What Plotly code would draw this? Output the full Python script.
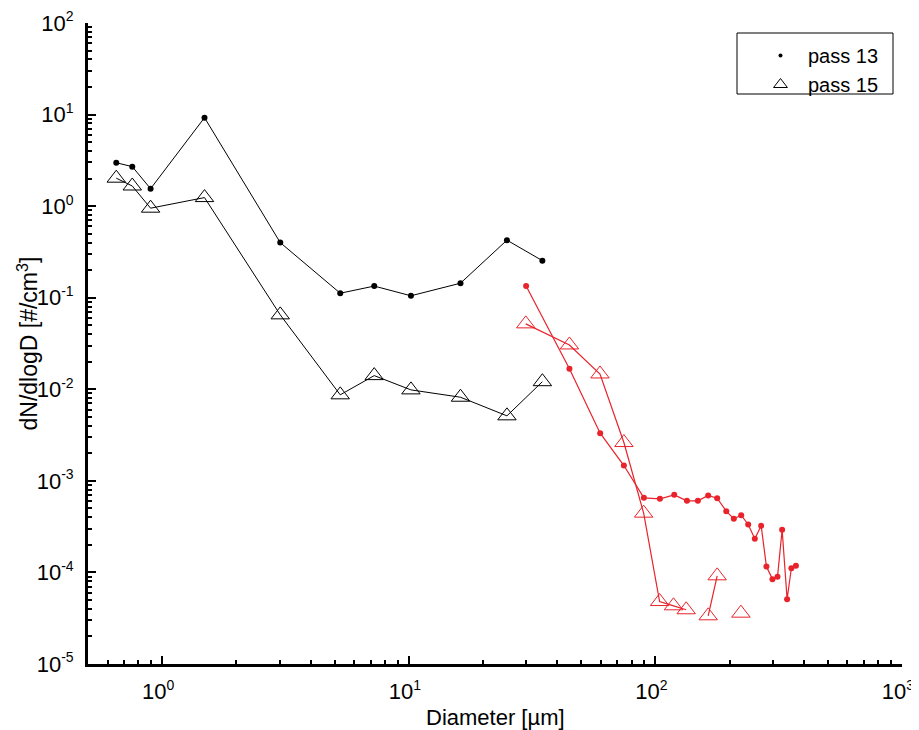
import plotly.graph_objects as go
import numpy as np

# ---- data ----
# pass 13, small-size instrument (black dots)
p13_small_d = [0.651, 0.756, 0.897, 1.484, 3.01, 5.27, 7.24, 10.2, 16.2, 25.0, 34.8]
p13_small_n = [2.98, 2.70, 1.55, 9.25, 0.40, 0.112, 0.134, 0.105, 0.144, 0.425, 0.254]

# pass 15, small-size instrument (black triangles)
p15_small_d = [0.651, 0.756, 0.897, 1.484, 3.01, 5.27, 7.24, 10.2, 16.2, 25.0, 34.8]
p15_small_n = [2.02, 1.66, 0.95, 1.24, 0.065, 0.0087, 0.0141, 0.00985, 0.00819, 0.00513, 0.0121]

# pass 13, large-size instrument (red dots)
p13_large_d = [29.9, 44.8, 59.7, 74.5, 89.8, 104.3, 119.2, 134.2, 148.7, 163.7, 178, 193.8,
               208, 222.8, 237.8, 253, 268.5, 282, 298.3, 312.7, 326.5, 342, 356, 371.4]
p13_large_n = [0.134, 0.0168, 0.00332, 0.00147, 0.000652, 0.000636, 0.000703, 0.000605,
               0.000605, 0.000692, 0.000647, 0.000467, 0.000385, 0.000422, 0.000334,
               0.000233, 0.000323, 0.000116, 8.45e-5, 8.95e-5, 0.000292, 5.11e-5,
               0.000111, 0.000118]

# pass 15, large-size instrument (red triangles); None = missing value
p15_large_d = [29.8, 44.8, 59.6, 74.5, 89.6, 104, 118.4, 133.3, 148.7, 163.7, 178, 193.8, 208, 222.2]
p15_large_n = [0.0518, 0.0305, 0.0147, 0.00262, 0.000444, 4.81e-5, 4.32e-5, 3.91e-5, None,
               3.36e-5, 9.18e-5, None, None, 3.59e-5]

x_tickvals = [1, 10, 100, 1000]
x_exponents = ["0", "1", "2", "3"]
y_tickvals = [1e-5, 1e-4, 1e-3, 1e-2, 1e-1, 1, 10, 100]
y_exponents = ["-5", "-4", "-3", "-2", "-1", "0", "1", "2"]

legend_names = ["pass 13", "pass 15"]
x_title = "Diameter [µm]"
y_title = "dN/dlogD [#/cm<sup>3</sup>]"

BLACK = "#000000"
RED = "#e8232b"
FONT = "Liberation Sans, Arial, sans-serif"


def pow_label(e):
    return "10<sup><span style='font-size:14px'>" + e + "</span></sup>"


x_ticktext = [pow_label(e) for e in x_exponents]
y_ticktext = [pow_label(e) for e in y_exponents]

# page body has an 8px margin: figure is drawn from (8, 8)
OFF = 8
W, H = 919 - OFF, 730 - OFF
PL, PR, PT, PB = 88, 902, 23, 664          # plot area in page pixels
ML, MT = PL - OFF, PT - OFF
MR, MB = (OFF + W) - PR, (OFF + H) - PB
PW, PH = PR - PL, PB - PT


def px(xp):
    return (xp - PL) / PW


def py(yp):
    return (PB - yp) / PH


fig = go.Figure()

fig.add_trace(go.Scatter(x=p13_small_d, y=p13_small_n, mode="lines+markers",
                         line=dict(color=BLACK, width=1),
                         marker=dict(symbol="circle", size=6, color=BLACK),
                         showlegend=False))
fig.add_trace(go.Scatter(x=p15_small_d, y=p15_small_n, mode="lines+markers",
                         line=dict(color=BLACK, width=1),
                         marker=dict(symbol="triangle-up-open", size=16, color=BLACK,
                                     line=dict(width=1, color=BLACK)),
                         showlegend=False))
fig.add_trace(go.Scatter(x=p13_large_d, y=p13_large_n, mode="lines+markers",
                         line=dict(color=RED, width=1.2),
                         marker=dict(symbol="circle", size=6, color=RED),
                         showlegend=False))
fig.add_trace(go.Scatter(x=p15_large_d, y=p15_large_n, mode="lines+markers",
                         line=dict(color=RED, width=1.2),
                         marker=dict(symbol="triangle-up-open", size=16, color=RED,
                                     line=dict(width=1, color=RED)),
                         connectgaps=False, showlegend=False))

# legend-only entries (black markers)
fig.add_trace(go.Scatter(x=[None], y=[None], mode="markers", name=legend_names[0],
                         marker=dict(symbol="circle", size=4, color=BLACK)))
fig.add_trace(go.Scatter(x=[None], y=[None], mode="markers", name=legend_names[1],
                         marker=dict(symbol="triangle-up-open", size=12, color=BLACK,
                                     line=dict(width=1, color=BLACK))))

x_minor = [m * 10.0 ** e for e in range(-1, 3) for m in range(2, 10) if 0.5 <= m * 10.0 ** e <= 1000]
y_minor = [m * 10.0 ** e for e in range(-5, 2) for m in range(2, 10)]

fig.update_layout(
    width=W, height=H,
    margin=dict(l=ML, r=MR, t=MT, b=MB, autoexpand=False),
    paper_bgcolor="white", plot_bgcolor="white",
    font=dict(family=FONT, color="black"),
    legend=dict(x=px(753), y=py(36), xanchor="left", yanchor="top",
                borderwidth=0, bgcolor="rgba(0,0,0,0)",
                font=dict(size=20, family=FONT), itemsizing="trace", itemwidth=45,
                tracegroupgap=0),
    shapes=[dict(type="rect", xref="paper", yref="paper",
                 x0=px(737), x1=px(893), y0=py(94), y1=py(33),
                 line=dict(color="black", width=1), fillcolor="rgba(0,0,0,0)")],
    annotations=[
        dict(text=x_title, xref="paper", yref="paper", x=0.5, y=py(717),
             xanchor="center", yanchor="middle", showarrow=False,
             font=dict(size=22, family=FONT)),
        dict(text=y_title, xref="paper", yref="paper", x=px(27), y=0.5,
             xanchor="center", yanchor="middle", showarrow=False, textangle=-90,
             font=dict(size=23, family=FONT)),
    ],
)

fig.update_xaxes(type="log", range=[np.log10(0.5), 3], automargin=False,
                 showline=True, linecolor="black", linewidth=3,
                 showgrid=False, zeroline=False, mirror=False,
                 ticks="inside", ticklen=8, tickwidth=2, tickcolor="black",
                 tickmode="array", tickvals=x_tickvals, ticktext=x_ticktext,
                 tickfont=dict(size=22, family=FONT), ticklabelstandoff=6,
                 ticklabelshift=-4, ticklabeloverflow="allow",
                 minor=dict(ticks="inside", ticklen=4, tickwidth=2, tickcolor="black",
                            tickmode="array", tickvals=x_minor, showgrid=False))

fig.update_yaxes(type="log", range=[-5, 2], automargin=False,
                 showline=True, linecolor="black", linewidth=3,
                 showgrid=False, zeroline=False, mirror=False,
                 ticks="inside", ticklen=8, tickwidth=2, tickcolor="black",
                 tickmode="array", tickvals=y_tickvals, ticktext=y_ticktext,
                 tickfont=dict(size=22, family=FONT), ticklabelstandoff=7,
                 ticklabeloverflow="allow",
                 minor=dict(ticks="inside", ticklen=4, tickwidth=2, tickcolor="black",
                            tickmode="array", tickvals=y_minor, showgrid=False))

fig.write_html("out.html")
